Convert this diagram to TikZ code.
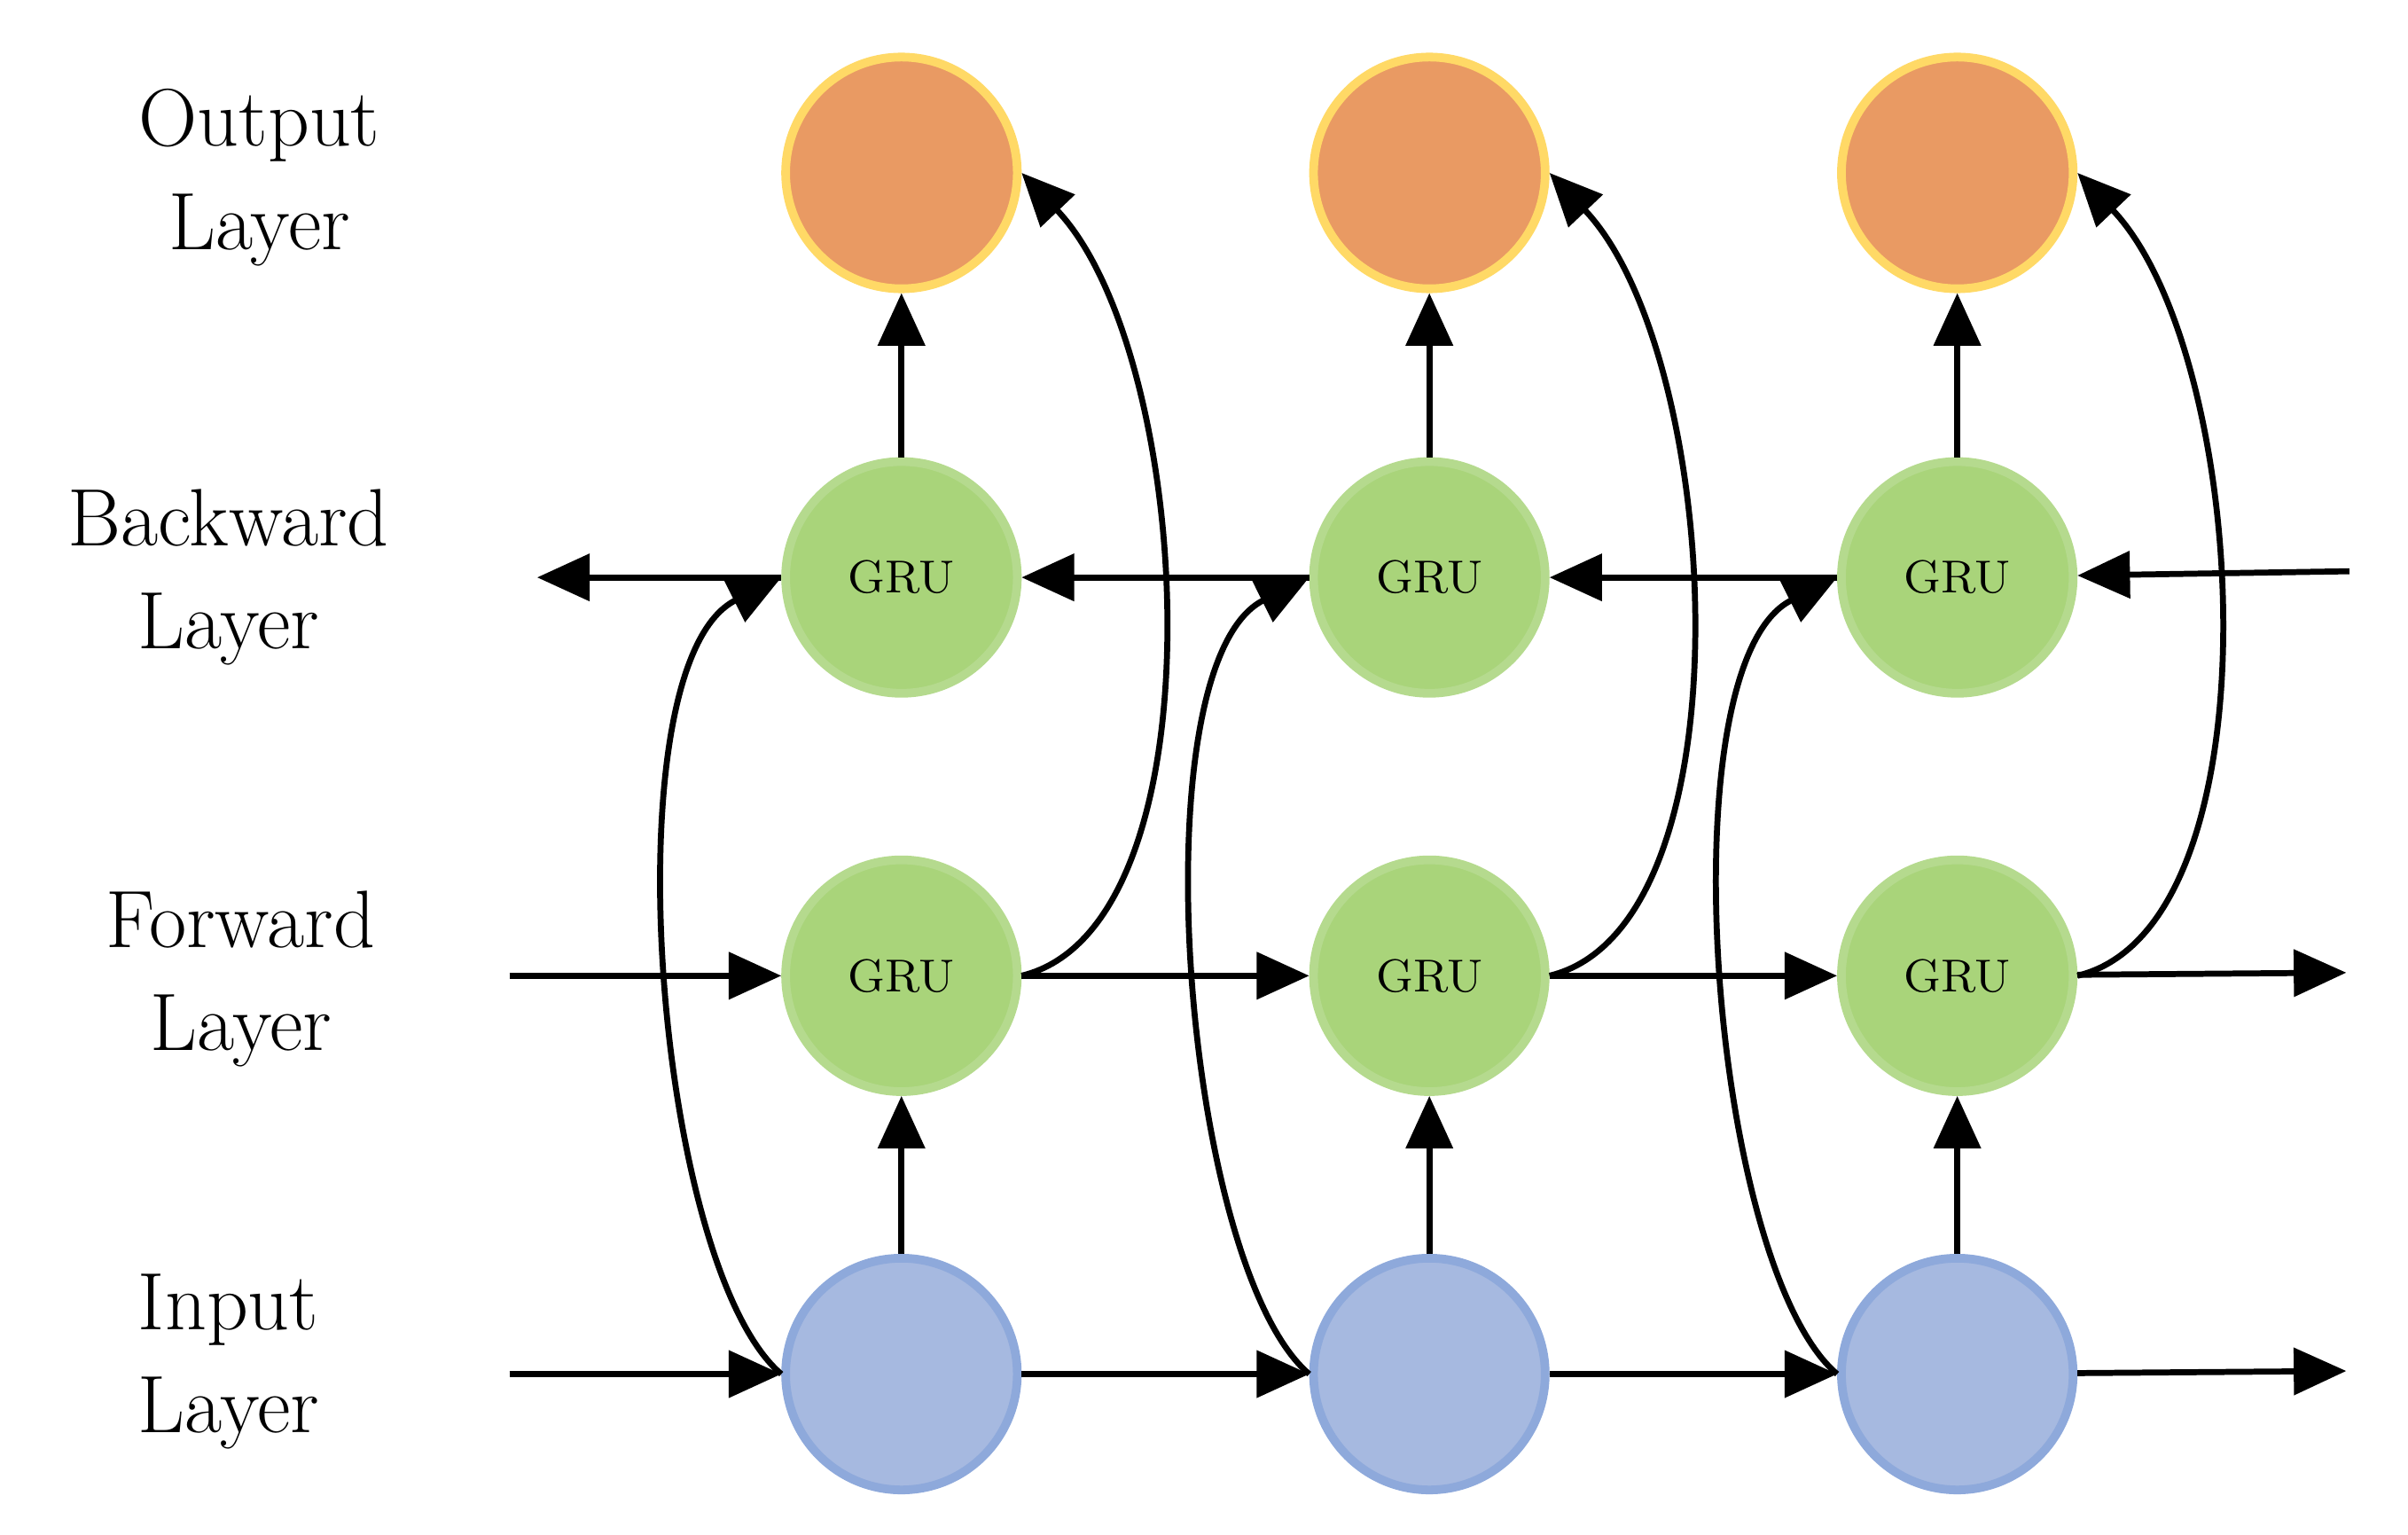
\documentclass[tikz,border=0pt]{standalone}
\usetikzlibrary{arrows.meta}
\definecolor{outf}{HTML}{E99A63}\definecolor{outd}{HTML}{FFD966}
\definecolor{gruf}{HTML}{A9D47A}\definecolor{grud}{HTML}{B5DA8E}
\definecolor{inf}{HTML}{A6B9E0}\definecolor{ind}{HTML}{8EA9DB}
\begin{document}
\begin{tikzpicture}[x=0.01cm,y=-0.01cm,
 neu/.style={circle,minimum size=1.5cm,inner sep=0pt,line width=1.6pt,font=\fontsize{8.5}{10}\selectfont},
 o/.style={neu,fill=outf,draw=outd},
 g/.style={neu,fill=gruf,draw=grud},
 i/.style={neu,fill=inf,draw=ind},
 lab/.style={align=center,font=\fontsize{15}{19}\selectfont},
 ar/.style={line width=1.1pt,-{Triangle[length=0.34cm,width=0.3cm]}}]
\useasboundingbox (0,0) rectangle (1560,994);
\foreach \n/\x in {1/584,2/926,3/1268}{
 \node[o] (o\n) at (\x,112) {};
 \node[g] (b\n) at (\x,374) {GRU};
 \node[g] (f\n) at (\x,632) {GRU};
 \node[i] (i\n) at (\x,890) {};
 \draw[ar] (i\n) -- (f\n);
 \draw[ar] (b\n) -- (o\n);
 \draw[ar] (i\n.west) .. controls (\x-160,820) and (\x-190,430) .. (b\n.west);
 \draw[ar] (f\n.east) .. controls (\x+210,600) and (\x+190,230) .. (o\n.east);
}
\node[lab] (l1) at (168,115) {Output\\Layer};
\node[lab] (l2) at (148,374) {Backward\\Layer};
\node[lab] (l3) at (156,634) {Forward\\Layer};
\node[lab] (l4) at (148,882) {Input\\Layer};
\coordinate (bl) at (348,374); \coordinate (br) at (1522,370);
\coordinate (fl) at (330,632); \coordinate (fr) at (1520,630);
\coordinate (il) at (330,890); \coordinate (ir) at (1520,888);
\draw[ar] (br) -- (b3); \draw[ar] (b3) -- (b2); \draw[ar] (b2) -- (b1); \draw[ar] (b1) -- (bl);
\draw[ar] (fl) -- (f1); \draw[ar] (f1) -- (f2); \draw[ar] (f2) -- (f3); \draw[ar] (f3) -- (fr);
\draw[ar] (il) -- (i1); \draw[ar] (i1) -- (i2); \draw[ar] (i2) -- (i3); \draw[ar] (i3) -- (ir);
\end{tikzpicture}
\end{document}
